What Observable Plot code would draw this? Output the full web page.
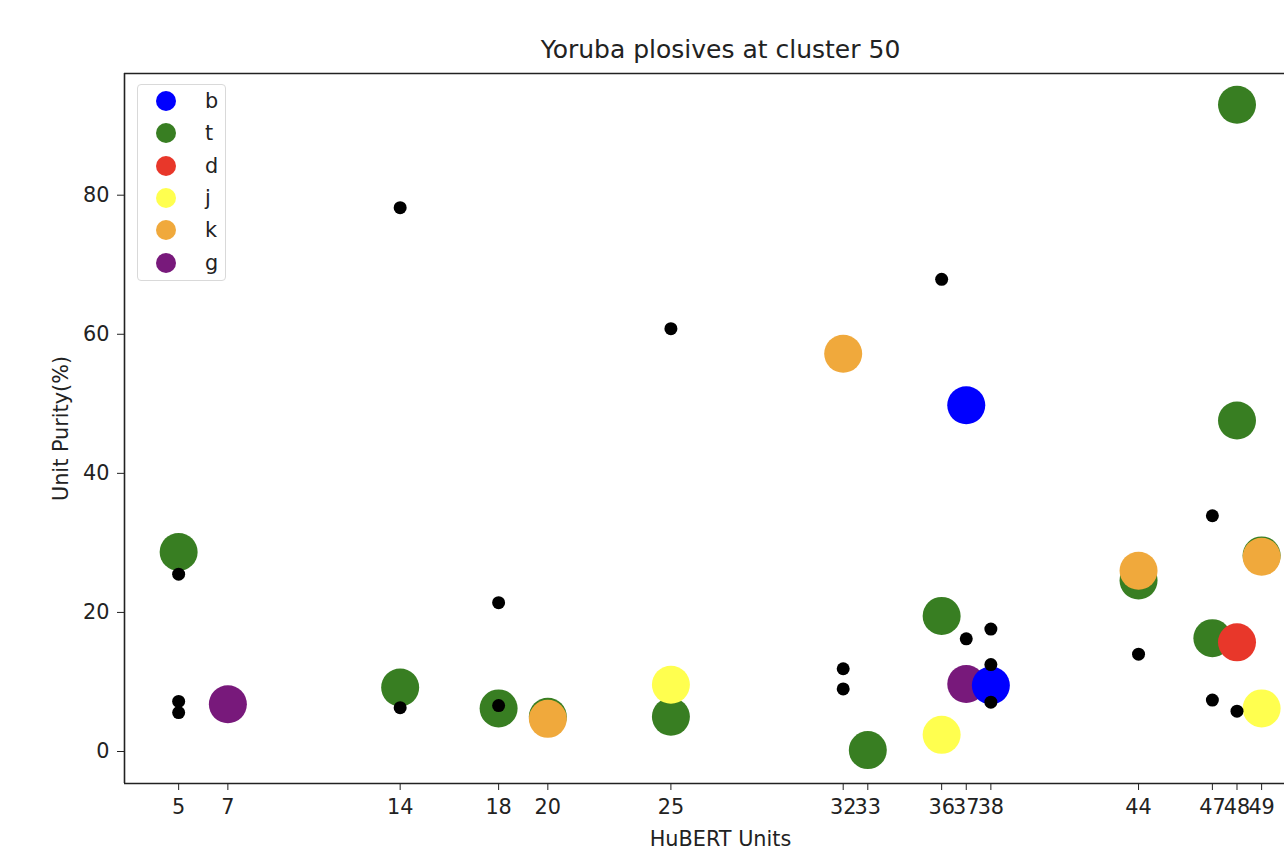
<!DOCTYPE html>
<html>
<head>
<meta charset="utf-8">
<script src="https://cdn.jsdelivr.net/npm/d3@7"></script>
<script src="https://cdn.jsdelivr.net/npm/@observablehq/plot@0.6"></script>
<style>
  html, body { margin: 0; padding: 0; background: #fff; overflow: hidden; }
  #wrap { position: relative; width: 1284px; height: 855px; font-family: "DejaVu Sans", sans-serif; }
  #legend { position: absolute; left: 137px; top: 84px; width: 89px; height: 197px; box-sizing: border-box;
            border: 1px solid #d9d9d9; border-radius: 4px; background: rgba(255,255,255,0.8); }
  .lrow { position: absolute; left: 0; width: 100%; height: 32px; }
  .lmark { position: absolute; left: 18px; top: 6px; width: 20px; height: 20px; border-radius: 50%; }
  .ltext { position: absolute; left: 67px; top: 0; line-height: 32px; font-size: 20.8px; color: #222; }
</style>
</head>
<body>
<div id="wrap"></div>
<script>
// Legend phones and their colours
const phones = ["b", "t", "d", "j", "k", "g"];
const phoneColors = ["#0000ff", "#387e22", "#e8372a", "#ffff4f", "#f0a93c", "#78197b"];

// Axis ticks
const xTicks = [5, 7, 14, 18, 20, 25, 32, 33, 36, 37, 38, 44, 47, 48, 49];
const yTicks = [0, 20, 40, 60, 80];

// Coloured points: HuBERT unit, phone, purity (%)
const units  = [5, 7, 14, 18, 20, 20, 25, 25, 32, 33, 36, 36, 37, 37, 38, 44, 44, 47, 48, 48, 48, 49, 49, 49];
const unitPhone = ["t","g","t","t","t","k","t","j","k","t","t","j","b","g","b","t","k","t","t","t","d","t","k","j"];
const purity = [28.7, 6.8, 9.2, 6.2, 5.0, 4.7, 5.0, 9.6, 57.2, 0.2, 19.5, 2.4, 49.8, 9.7, 9.5, 24.6, 26.0, 16.3, 93.0, 47.6, 15.7, 28.2, 28.0, 6.2];

// Black reference dots: HuBERT unit, purity (%)
const refUnits  = [5, 5, 5, 14, 14, 18, 18, 25, 32, 32, 36, 37, 38, 38, 38, 44, 47, 47, 48];
const refPurity = [25.5, 7.2, 5.6, 78.2, 6.3, 21.4, 6.6, 60.8, 11.9, 9.0, 67.9, 16.2, 17.6, 12.5, 7.1, 14.0, 33.9, 7.4, 5.8];

const title = "Yoruba plosives at cluster 50";
const xLabel = "HuBERT Units";
const yLabel = "Unit Purity(%)";

const points = units.map((u, i) => ({unit: u, phone: unitPhone[i], purity: purity[i]}));
const refs = refUnits.map((u, i) => ({unit: u, purity: refPurity[i]}));

const xDomain = [2.8, 49.93];
const yDomain = [-4.6, 97.5];

const chart = Plot.plot({
  width: 1284,
  height: 855,
  marginLeft: 124,
  marginRight: 0,
  marginTop: 73,
  marginBottom: 72,
  style: {fontFamily: "DejaVu Sans", fontSize: "20.8px", color: "#222", background: "white", overflow: "hidden"},
  x: {domain: xDomain, ticks: xTicks, tickSize: 7, tickPadding: 9, label: null, tickFormat: d => String(d)},
  y: {domain: yDomain, ticks: yTicks, tickSize: 7, tickPadding: 8, label: null, tickFormat: d => String(d)},
  color: {domain: phones, range: phoneColors},
  marks: [
    Plot.dot(points, {x: "unit", y: "purity", fill: "phone", r: 19}),
    Plot.dot(refs, {x: "unit", y: "purity", fill: "black", r: 6.5}),
    Plot.ruleX([xDomain[0]], {stroke: "#222", strokeWidth: 1.6}),
    Plot.ruleY(yDomain, {stroke: "#222", strokeWidth: 1.6}),
    Plot.text([title], {text: d => d, frameAnchor: "top", lineAnchor: "middle", textAnchor: "middle", dx: 16, dy: -24, fontSize: 25}),
    Plot.text([xLabel], {text: d => d, frameAnchor: "bottom", lineAnchor: "middle", textAnchor: "middle", dx: 16, dy: 56, fontSize: 20.8}),
    Plot.text([yLabel], {text: d => d, frameAnchor: "left", lineAnchor: "middle", textAnchor: "middle", dx: -63, rotate: -90, fontSize: 20.8})
  ]
});

const wrap = document.getElementById("wrap");
wrap.appendChild(chart);

// Legend inside the axes (upper left)
const legend = d3.select(wrap).append("div").attr("id", "legend");
phones.forEach((p, i) => {
  const row = legend.append("div").attr("class", "lrow").style("top", (i * 32.3) + "px");
  row.append("div").attr("class", "lmark").style("background", phoneColors[i]);
  row.append("div").attr("class", "ltext").text(p);
});
</script>
</body>
</html>
